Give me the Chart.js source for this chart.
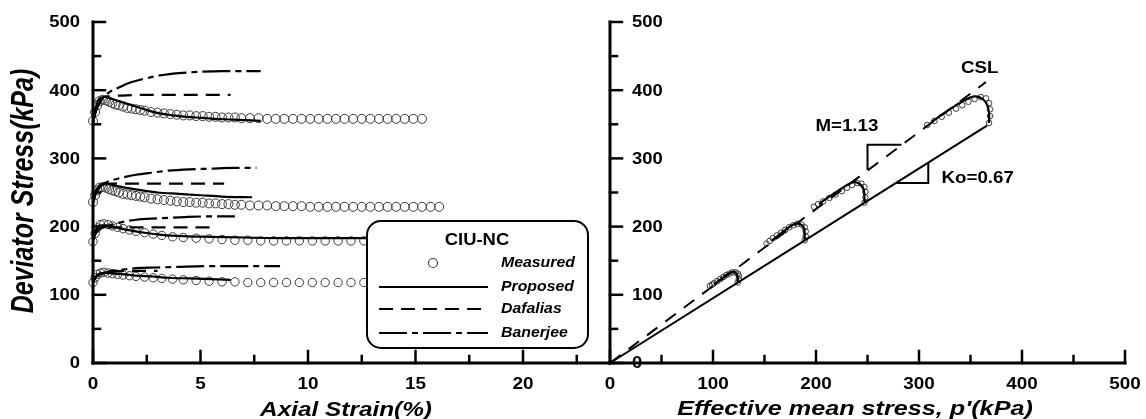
<!DOCTYPE html>
<html>
<head>
<meta charset="utf-8">
<script src="https://cdn.jsdelivr.net/npm/chart.js@4.4.0/dist/chart.umd.min.js"></script>
<style>
  html, body { margin: 0; padding: 0; background: #fff; }
  #wrap { position: relative; width: 1146px; height: 419px; }
  #wrap canvas { position: absolute; left: 0; top: 0; }
</style>
</head>
<body>
<div id="wrap">
  <canvas id="strainChart" width="1146" height="419"></canvas>
  <canvas id="pathChart" width="1146" height="419"></canvas>
</div>
<script>
// ---- left panel: deviator stress vs axial strain ----
const strainDense = [0, 0.1, 0.2, 0.3, 0.45, 0.6, 0.75, 0.9, 1.05, 1.2, 1.4, 1.6, 1.8, 2.0, 2.2, 2.4,
  2.7, 3.0, 3.3, 3.6, 3.9, 4.2, 4.5, 4.8, 5.1, 5.4, 5.7, 6.0, 6.3, 6.6, 6.9, 7.3, 7.7, 8.1, 8.5, 8.9,
  9.3, 9.7, 10.1, 10.5, 10.9, 11.3, 11.7, 12.1, 12.5, 12.9, 13.3, 13.7, 14.1, 14.5, 14.9, 15.3, 15.7, 16.1];
const strainSparse = [0, 0.1, 0.2, 0.35, 0.5, 0.7, 0.9, 1.15, 1.4, 1.7, 2.0, 2.4, 2.8, 3.2, 3.7, 4.2,
  4.8, 5.4, 6.0, 6.6, 7.2, 7.8, 8.4, 9.0, 9.6, 10.2, 10.8, 11.4, 12.0, 12.6];

const measQ1 = [355, 368, 378, 384, 386, 385, 383, 381, 379, 378, 376, 374, 373, 372, 371, 370,
  368, 367, 366, 365, 364, 363, 363, 362, 362, 361, 361, 360, 360, 360, 359, 359, 359, 358, 358, 358,
  358, 358, 358, 358, 358, 358, 358, 358, 358, 358, 358, 358, 358, 358, 358, 358];
const measQ2 = [236, 246, 253, 257, 258, 257, 255, 253, 252, 250, 248, 247, 246, 245, 244, 243,
  241, 240, 239, 238, 237, 236, 236, 235, 235, 234, 234, 233, 233, 232, 232, 231, 231, 231, 230, 230,
  230, 230, 229, 229, 229, 229, 229, 229, 229, 229, 229, 229, 229, 229, 229, 229, 229, 229];
const measQ3 = [178, 190, 198, 203, 204, 203, 201, 199, 197, 195, 193, 191, 189, 187, 185, 184,
  183, 182, 181, 180, 180, 179, 179, 179, 179, 179, 179, 179, 179, 179];
const measQ4 = [118, 125, 130, 132, 133, 132, 131, 130, 129, 128, 127, 126, 125, 124, 123, 122,
  121, 120, 119, 119, 118, 118, 118, 118, 118, 118, 118, 118, 118, 118];

const propE1 = [0, 0.1, 0.2, 0.35, 0.55, 0.8, 1.2, 1.7, 2.2, 2.7, 3.3, 4.0, 4.8, 5.6, 6.5, 7.8];
const propQ1 = [352, 370, 382, 388, 390, 388, 384, 379, 374, 369, 365, 362, 360, 358, 357, 355];
const propE2 = [0, 0.1, 0.2, 0.35, 0.55, 0.8, 1.2, 1.7, 2.3, 3.0, 4.0, 5.0, 6.0, 7.4];
const propQ2 = [235, 248, 256, 261, 263, 262, 259, 256, 253, 250, 248, 246, 244, 243];
const propE3 = [0, 0.1, 0.2, 0.4, 0.6, 0.9, 1.3, 1.8, 2.4, 3.2, 4.2, 5.5, 7.0, 9.0, 11.0, 12.7];
const propQ3 = [180, 192, 199, 202, 202, 200, 197, 194, 191, 188, 186, 185, 184, 183, 183, 183];
const propE4 = [0, 0.1, 0.2, 0.4, 0.7, 1.0, 1.5, 2.0, 2.7, 3.5, 4.5, 5.5, 6.4];
const propQ4 = [118, 125, 129, 131, 132, 131, 130, 128, 127, 125, 124, 123, 122];

const dafE1 = [0, 0.1, 0.2, 0.35, 0.5, 0.8, 1.2, 2.0, 3.0, 4.0, 5.0, 6.4];
const dafQ1 = [352, 372, 383, 388, 390, 391, 392, 393, 393, 393, 393, 393];
const dafE2 = [0, 0.1, 0.2, 0.35, 0.55, 0.8, 1.2, 2.0, 3.0, 4.5, 6.1];
const dafQ2 = [235, 248, 256, 260, 262, 263, 263, 263, 263, 263, 263];
const dafE3 = [0, 0.1, 0.2, 0.4, 0.7, 1.0, 1.5, 2.5, 3.5, 4.5, 5.6];
const dafQ3 = [180, 190, 195, 198, 199, 199, 199, 199, 199, 199, 199];
const dafE4 = [0, 0.1, 0.2, 0.4, 0.7, 1.0, 1.5, 2.2, 3.0];
const dafQ4 = [118, 125, 129, 132, 133, 134, 135, 135, 135];

const banE1 = [0, 0.1, 0.25, 0.5, 0.8, 1.2, 1.7, 2.3, 3.0, 4.0, 5.0, 6.0, 7.0, 7.8];
const banQ1 = [352, 365, 378, 390, 398, 404, 411, 416, 421, 425, 427, 428, 428, 428];
const banE2 = [0, 0.1, 0.25, 0.45, 0.7, 1.0, 1.5, 2.0, 2.7, 3.5, 4.5, 5.5, 6.5, 7.6];
const banQ2 = [235, 246, 255, 262, 266, 269, 273, 276, 279, 282, 284, 285, 286, 286];
const banE3 = [0, 0.1, 0.25, 0.5, 0.9, 1.4, 2.0, 3.0, 4.3, 5.5, 6.6];
const banQ3 = [180, 188, 195, 199, 203, 207, 210, 212, 214, 215, 215];
const banE4 = [0, 0.1, 0.25, 0.5, 0.9, 1.4, 2.0, 3.0, 4.0, 5.5, 7.0, 8.7];
const banQ4 = [118, 124, 129, 132, 135, 137, 139, 140, 141, 142, 142, 142];

// ---- right panel: stress paths q vs p' ----
const cslP = [0, 365];
const cslQ = [0, 412];
const koP = [0, 366];
const koQ = [0, 348];
const slopeMP = [250, 250, 283];
const slopeMQ = [283, 320, 320];
const slopeKoP = [278, 309, 309];
const slopeKoQ = [264, 264, 294];

const pathPA = [124, 125, 125, 124, 122, 119, 116, 113, 110, 107, 104, 101, 99, 97];
const pathQA = [118, 123, 128, 131, 133, 133, 131, 129, 126, 123, 120, 117, 115, 113];
const pathPB = [189, 190, 190, 189, 186, 182, 178, 174, 170, 166, 162, 158, 155, 152];
const pathQB = [180, 186, 193, 199, 203, 204, 202, 199, 195, 191, 187, 183, 179, 175];
const pathPC = [247, 248, 248, 247, 244, 240, 235, 230, 225, 219, 213, 207, 202, 198];
const pathQC = [235, 243, 251, 258, 263, 264, 261, 257, 252, 247, 242, 237, 233, 229];
const pathPD = [368, 369, 369, 368, 365, 360, 354, 348, 342, 336, 329, 322, 315, 308];
const pathQD = [352, 362, 372, 381, 388, 390, 387, 383, 378, 373, 367, 361, 355, 349];

const propPA = [124, 124, 123, 120, 116, 111, 106, 101];
const propQA = [118, 125, 131, 134, 132, 127, 121, 115];
const propPB = [189, 189, 188, 184, 178, 171, 164, 157];
const propQB = [180, 190, 199, 204, 203, 196, 188, 179];
const propPC = [247, 247, 246, 242, 236, 228, 220, 211, 203];
const propQC = [235, 246, 256, 263, 265, 259, 251, 242, 233];
const propPD = [368, 368, 366, 361, 354, 345, 335, 324, 312];
const propQD = [352, 366, 379, 388, 391, 386, 377, 366, 353];

const notes = [
  { text: 'M=1.13', p: 230, q: 347 },
  { text: 'Ko=0.67', p: 357, q: 270 },
  { text: 'CSL', p: 359, q: 431 }
];

// ---- helpers ----
const FONT = '"Liberation Sans", Arial, sans-serif';
const TICK_FONT = 'bold 16px ' + FONT;
const DASH_DAF = [14, 8];
const DASH_BAN = [28, 5, 6, 5];

function pts(xs, ys) {
  return ys.map((y, i) => ({ x: xs[i], y: y }));
}

function text(ctx, str, x, y, font, align, sx, baseline) {
  ctx.save();
  ctx.font = font;
  ctx.fillStyle = '#000';
  ctx.textAlign = align;
  ctx.textBaseline = baseline || 'middle';
  ctx.translate(x, y);
  ctx.scale(sx, 1);
  ctx.fillText(str, 0, 0);
  ctx.restore();
}

function seg(ctx, x1, y1, x2, y2) {
  ctx.beginPath();
  ctx.moveTo(x1, y1);
  ctx.lineTo(x2, y2);
  ctx.stroke();
}

// axis lines + inward ticks, majors from the scale, minors halfway
function drawAxes(chart, yLabelX, yLabelAlign) {
  const ctx = chart.ctx;
  const xs = chart.scales.x, ys = chart.scales.y;
  const x0 = xs.getPixelForValue(xs.min), x1 = xs.getPixelForValue(xs.max);
  const y0 = ys.getPixelForValue(0), y1 = ys.getPixelForValue(ys.max);
  ctx.save();
  ctx.strokeStyle = '#000';
  ctx.lineCap = 'square';
  ctx.lineWidth = 3;
  seg(ctx, x0, y1, x0, y0);
  seg(ctx, x0, y0, x1, y0);
  ctx.lineWidth = 2.5;
  const xt = xs.ticks.map(t => t.value);
  const xStep = xt[1] - xt[0];
  xt.forEach(v => {
    const px = xs.getPixelForValue(v);
    seg(ctx, px, y0, px, y0 - 12);
    if (v + xStep / 2 <= xs.max) {
      const pm = xs.getPixelForValue(v + xStep / 2);
      seg(ctx, pm, y0, pm, y0 - 7);
    }
    text(ctx, String(v), px, 385, TICK_FONT, 'center', 1.18);
  });
  const yt = ys.ticks.map(t => t.value);
  const yStep = yt[1] - yt[0];
  yt.forEach(v => {
    const py = ys.getPixelForValue(v);
    seg(ctx, x0, py, x0 + 12, py);
    if (v + yStep / 2 <= ys.max) {
      const pm = ys.getPixelForValue(v + yStep / 2);
      seg(ctx, x0, pm, x0 + 7, pm);
    }
    text(ctx, String(v), yLabelX, py + 1, TICK_FONT, yLabelAlign, 1.15);
  });
  ctx.restore();
}

function roundBox(ctx, x, y, w, h, r) {
  ctx.beginPath();
  ctx.moveTo(x + r, y);
  ctx.arcTo(x + w, y, x + w, y + h, r);
  ctx.arcTo(x + w, y + h, x, y + h, r);
  ctx.arcTo(x, y + h, x, y, r);
  ctx.arcTo(x, y, x + w, y, r);
  ctx.closePath();
}

const strainDecor = {
  id: 'strainDecor',
  afterDatasetsDraw(chart) {
    const ctx = chart.ctx;
    drawAxes(chart, 80, 'right');

    // titles
    ctx.save();
    ctx.font = 'italic bold 25px ' + FONT;
    ctx.fillStyle = '#000';
    ctx.textAlign = 'center';
    ctx.textBaseline = 'alphabetic';
    ctx.translate(33, 191);
    ctx.rotate(-Math.PI / 2);
    ctx.scale(1, 1.25);
    ctx.fillText('Deviator Stress(kPa)', 0, 0);
    ctx.restore();
    text(ctx, 'Axial Strain(%)', 346, 416, 'italic bold 21px ' + FONT, 'center', 1.16, 'alphabetic');

    // legend box
    ctx.save();
    roundBox(ctx, 367, 221, 221, 127, 14);
    ctx.fillStyle = '#fff';
    ctx.fill();
    ctx.lineWidth = 2;
    ctx.strokeStyle = '#000';
    ctx.stroke();
    text(ctx, 'CIU-NC', 477, 241, 'bold 16px ' + FONT, 'center', 1.15);
    const lf = 'italic bold 14px ' + FONT;
    ctx.lineWidth = 1.2;
    ctx.strokeStyle = '#444';
    ctx.beginPath();
    ctx.arc(433, 263, 4.5, 0, Math.PI * 2);
    ctx.stroke();
    text(ctx, 'Measured', 501, 263, lf, 'left', 1.13);
    ctx.strokeStyle = '#000';
    ctx.lineWidth = 2.2;
    seg(ctx, 379, 287, 488, 287);
    text(ctx, 'Proposed', 501, 287, lf, 'left', 1.13);
    ctx.setLineDash(DASH_DAF);
    seg(ctx, 379, 309, 488, 309);
    text(ctx, 'Dafalias', 501, 309, lf, 'left', 1.13);
    ctx.setLineDash(DASH_BAN);
    seg(ctx, 379, 333, 488, 333);
    ctx.setLineDash([]);
    text(ctx, 'Banerjee', 501, 333, lf, 'left', 1.13);
    ctx.restore();
  }
};

const pathDecor = {
  id: 'pathDecor',
  afterDatasetsDraw(chart) {
    const ctx = chart.ctx;
    drawAxes(chart, 632, 'left');
    text(ctx, 'Effective mean stress, p\'(kPa)', 855, 415, 'italic bold 21px ' + FONT, 'center', 1.2, 'alphabetic');
    const xs = chart.scales.x, ys = chart.scales.y;
    notes.forEach(n => {
      text(ctx, n.text, xs.getPixelForValue(n.p), ys.getPixelForValue(n.q), 'bold 16px ' + FONT, 'center', 1.17);
    });
  }
};

function measured(data, r) {
  return {
    data: data,
    showLine: false,
    pointStyle: 'circle',
    pointRadius: r,
    pointBorderWidth: 1,
    pointBorderColor: '#3a3a3a',
    pointBackgroundColor: 'rgba(255,255,255,0)',
    clip: false
  };
}

function model(data, dash, width, smooth) {
  return {
    data: data,
    borderColor: '#000',
    borderWidth: width,
    borderDash: dash,
    pointRadius: 0,
    tension: 0.35,
    cubicInterpolationMode: smooth ? 'monotone' : 'default',
    fill: false,
    clip: false
  };
}

function baseOptions(xMax, yWidth, padRight) {
  return {
    responsive: false,
    animation: false,
    events: [],
    layout: { padding: { left: 0, top: 22, right: padRight, bottom: 0 } },
    plugins: { legend: { display: false }, tooltip: { enabled: false } },
    scales: {
      x: {
        type: 'linear', min: 0, max: xMax,
        ticks: { display: false, stepSize: xMax > 100 ? 100 : 5, includeBounds: false, autoSkip: false },
        grid: { display: false, drawTicks: false },
        border: { display: false },
        afterFit: s => { s.height = 56; }
      },
      y: {
        type: 'linear', min: 0, max: 500,
        ticks: { display: false, stepSize: 100, includeBounds: false, autoSkip: false },
        grid: { display: false, drawTicks: false },
        border: { display: false },
        afterFit: s => { s.width = yWidth; }
      }
    }
  };
}

new Chart(document.getElementById('strainChart').getContext('2d'), {
  type: 'line',
  data: {
    datasets: [
      model(pts(propE1, propQ1), [], 2.2, true),
      model(pts(propE2, propQ2), [], 2.2, true),
      model(pts(propE3, propQ3), [], 2.2, true),
      model(pts(propE4, propQ4), [], 2.2, true),
      model(pts(dafE1, dafQ1), DASH_DAF, 2.2, true),
      model(pts(dafE2, dafQ2), DASH_DAF, 2.2, true),
      model(pts(dafE3, dafQ3), DASH_DAF, 2.2, true),
      model(pts(dafE4, dafQ4), DASH_DAF, 2.2, true),
      model(pts(banE1, banQ1), DASH_BAN, 2.2, true),
      model(pts(banE2, banQ2), DASH_BAN, 2.2, true),
      model(pts(banE3, banQ3), DASH_BAN, 2.2, true),
      model(pts(banE4, banQ4), DASH_BAN, 2.2, true),
      measured(pts(strainDense, measQ1), 4.5),
      measured(pts(strainDense, measQ2), 4.5),
      measured(pts(strainSparse, measQ3), 4.2),
      measured(pts(strainSparse, measQ4), 4.2)
    ]
  },
  options: baseOptions(24, 93, 1146 - 609),
  plugins: [strainDecor]
});

new Chart(document.getElementById('pathChart').getContext('2d'), {
  type: 'line',
  data: {
    datasets: [
      model(pts(cslP, cslQ), [13, 10], 2, false),
      model(pts(koP, koQ), [], 2, false),
      Object.assign(model(pts(slopeMP, slopeMQ), [], 2, false), { tension: 0 }),
      Object.assign(model(pts(slopeKoP, slopeKoQ), [], 2, false), { tension: 0 }),
      model(pts(propPA, propQA), [], 2.2, false),
      model(pts(propPB, propQB), [], 2.2, false),
      model(pts(propPC, propQC), [], 2.2, false),
      model(pts(propPD, propQD), [], 2.2, false),
      measured(pts(pathPA, pathQA), 2.8),
      measured(pts(pathPB, pathQB), 2.8),
      measured(pts(pathPC, pathQC), 2.8),
      measured(pts(pathPD, pathQD), 2.8)
    ]
  },
  options: baseOptions(500, 610, 21),
  plugins: [pathDecor]
});
</script>
</body>
</html>
